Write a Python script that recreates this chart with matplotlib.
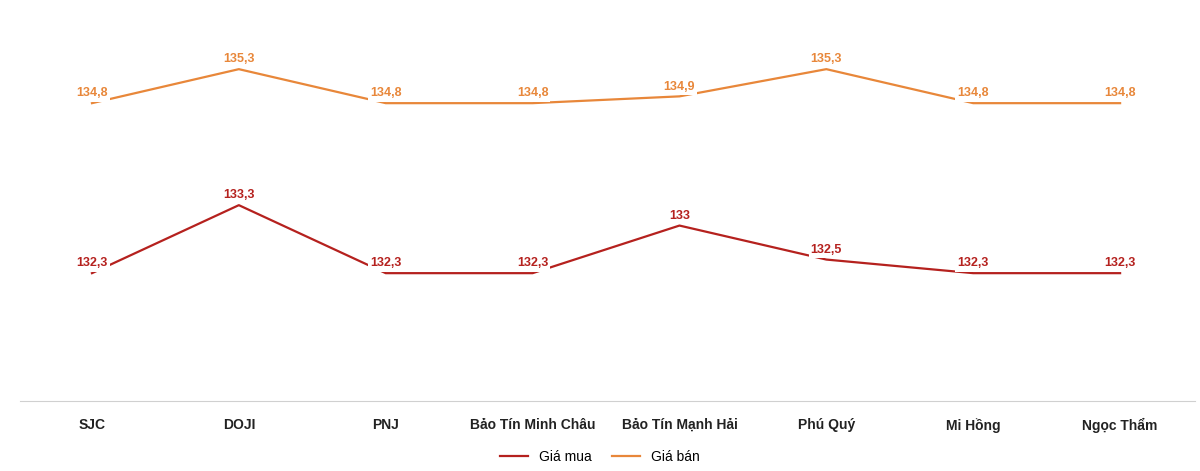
import matplotlib
matplotlib.use("Agg")
import matplotlib.pyplot as plt

categories = ["SJC", "DOJI", "PNJ", "Bảo Tín Minh Châu", "Bảo Tín Mạnh Hải", "Phú Quý", "Mi Hồng", "Ngọc Thẩm"]
gia_mua = [132.3, 133.3, 132.3, 132.3, 133.0, 132.5, 132.3, 132.3]
gia_ban = [134.8, 135.3, 134.8, 134.8, 134.9, 135.3, 134.8, 134.8]

plt.rcParams['font.family'] = ['Liberation Sans', 'DejaVu Sans']
c_mua = "#B5211E"
c_ban = "#E8873A"

fig = plt.figure(figsize=(12, 4.71), dpi=100)
ax = fig.add_axes([20/1200, 70/471, 1175/1200, 401/471])
x = list(range(len(categories)))
ax.plot(x, gia_mua, color=c_mua, lw=1.6, label="Giá mua")
ax.plot(x, gia_ban, color=c_ban, lw=1.6, label="Giá bán")

def fmt(v):
    s = f"{v:.1f}".replace(".", ",")
    return s[:-2] if s.endswith(",0") else s

for xs, ys, c in [(x, gia_mua, c_mua), (x, gia_ban, c_ban)]:
    for xi, yi in zip(xs, ys):
        ax.annotate(fmt(yi), (xi, yi), xytext=(0, 7), textcoords="offset points",
                    color=c, fontsize=9, fontweight="bold", ha="center", va="center",
                    bbox=dict(facecolor="white", edgecolor="none", pad=1.5))

ax.set_xlim(-0.49, 7.51)
ax.set_ylim(130.42, 130.42 + 401/68)
ax.set_xticks(x)
ax.set_xticklabels(categories, fontsize=10, fontweight="bold", color="#222222")
ax.tick_params(axis="x", length=0, pad=12)
ax.set_yticks([])
for s in ["top", "right", "left"]:
    ax.spines[s].set_visible(False)
ax.spines["bottom"].set_color("#D0D0D0")

fig.legend(loc="center", bbox_to_anchor=(0.5, 1 - 457/471), ncol=2, frameon=False,
           fontsize=10, handlelength=2, columnspacing=1.5)
fig.savefig("out.png", dpi=100)
